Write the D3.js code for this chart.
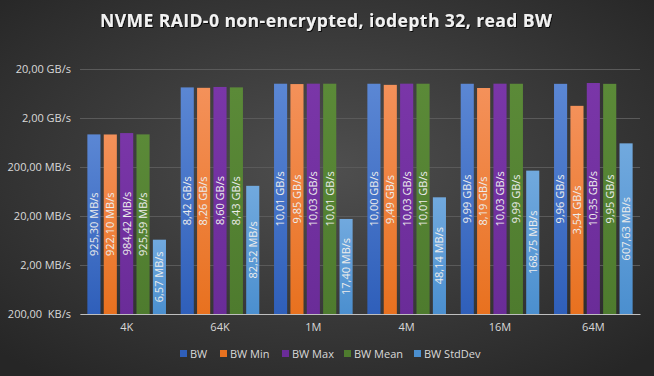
<!DOCTYPE html>
<html>
<head>
<meta charset="utf-8">
<script src="https://cdn.jsdelivr.net/npm/d3@7"></script>
<style>
  html, body { margin: 0; padding: 0; background: #2a2a2a; }
  svg { display: block; font-family: "Open Sans", "Noto Sans", sans-serif; }
</style>
</head>
<body>
<svg class="chart-svg" width="654" height="376"></svg>
<script>
// chart data (values in MB/s)
const categories = ['4K', '64K', '1M', '4M', '16M', '64M']
const seriesNames = ['BW', 'BW Min', 'BW Max', 'BW Mean', 'BW StdDev']
const bw = [925.30, 8420, 10010, 10000, 9990, 9960]
const bwMin = [922.10, 8260, 9850, 9490, 8190, 3540]
const bwMax = [984.42, 8600, 10030, 10030, 10030, 10350]
const bwMean = [925.59, 8430, 10010, 10010, 9990, 9950]
const bwStd = [6.57, 82.52, 17.40, 48.14, 168.75, 607.63]
const yTicks = [0.2, 2, 20, 200, 2000, 20000]
const yTickLabels = ['200,00  KB/s', '2,00 MB/s', '20,00 MB/s', '200,00 MB/s', '2,00 GB/s', '20,00 GB/s']

const seriesValues = [bw, bwMin, bwMax, bwMean, bwStd]
const colors = [
  ['#5b87d4', '#2f5fba'],
  ['#f4915a', '#e8711f'],
  ['#7a36a8', '#6a2c98'],
  ['#5b8a38', '#4e7b2e'],
  ['#71a9de', '#4b8fcf']
]

var svg = d3.select('.chart-svg')
var width = 654, height = 376
var margin = {left: 80, right: 14, top: 69, bottom: 62}

// background
var defs = svg.append('defs')
var bg = defs.append('radialGradient').attr('id', 'bg')
  .attr('cx', '50%').attr('cy', '45%').attr('r', '70%')
bg.append('stop').attr('offset', '0%').attr('stop-color', '#4f4f4f')
bg.append('stop').attr('offset', '100%').attr('stop-color', '#262626')
svg.append('rect').attr('width', width).attr('height', height).attr('fill', 'url(#bg)')

colors.forEach(function (c, i) {
  var g = defs.append('linearGradient').attr('id', 'grad' + i)
    .attr('x1', 0).attr('y1', 0).attr('x2', 0).attr('y2', 1)
  g.append('stop').attr('offset', '0%').attr('stop-color', c[0])
  g.append('stop').attr('offset', '100%').attr('stop-color', c[1])
})

var shadow = defs.append('filter').attr('id', 'shadow')
shadow.append('feDropShadow').attr('dx', 1).attr('dy', 1).attr('stdDeviation', 0.6)
  .attr('flood-color', '#000').attr('flood-opacity', 0.8)

svg.append('text')
  .attr('x', 326).attr('y', 27)
  .attr('text-anchor', 'middle')
  .attr('fill', '#f2f2f2')
  .attr('font-size', 17.5)
  .attr('font-weight', 'bold')
  .attr('textLength', 452)
  .attr('lengthAdjust', 'spacing')
  .attr('filter', 'url(#shadow)')
  .text('NVME RAID-0 non-encrypted, iodepth 32, read BW')

const xScale = d3.scaleBand()
  .domain(categories)
  .range([margin.left, width - margin.right])
  .paddingInner(0)
  .paddingOuter(0)

const inner = d3.scaleBand()
  .domain(seriesNames)
  .range([0, xScale.bandwidth()])
  .paddingInner(0.2)
  .paddingOuter(0.45)

const yScale = d3.scaleLog()
  .domain([0.2, 20000])
  .range([height - margin.bottom, margin.top])

// gridlines + y labels
var y_axis = d3.axisLeft(yScale)
  .tickValues(yTicks)
  .tickSize(-(width - margin.left - margin.right))
  .tickPadding(10)
  .tickFormat(function (d, i) { return yTickLabels[i] })

var yg = svg.append('g')
  .attr('transform', 'translate(' + margin.left + ',0)')
  .call(y_axis)
yg.select('.domain').remove()
yg.selectAll('.tick line').attr('stroke', '#5a5a5a').attr('stroke-width', 1)
yg.selectAll('.tick text')
  .attr('fill', '#d9d9d9')
  .attr('font-size', 11)
  .style('font-family', '"Open Sans", sans-serif')
  .style('white-space', 'pre')
  .attr('x', -9)

// bars
seriesNames.forEach(function (name, si) {
  var vals = seriesValues[si]
  var g = svg.append('g')
  g.selectAll('rect')
    .data(vals)
    .join('rect')
    .attr('x', function (d, i) { return xScale(categories[i]) + inner(name) })
    .attr('width', inner.bandwidth())
    .attr('y', function (d) { return yScale(d) })
    .attr('height', function (d) { return yScale(0.2) - yScale(d) })
    .attr('fill', 'url(#grad' + si + ')')

  g.selectAll('text')
    .data(vals)
    .join('text')
    .attr('transform', function (d, i) {
      var cx = xScale(categories[i]) + inner(name) + inner.bandwidth() / 2
      var cy = (yScale(d) + yScale(0.2)) / 2
      return 'translate(' + cx + ',' + cy + ') rotate(-90)'
    })
    .attr('text-anchor', 'middle')
    .attr('dy', '0.35em')
    .attr('fill', '#ececec')
    .attr('font-size', 11)
    .text(function (d) {
      var s = d >= 1000 ? d3.format('.2f')(d / 1000) + ' GB/s' : d3.format('.2f')(d) + ' MB/s'
      return s.replace('.', ',')
    })
})

// x axis
var x_axis = d3.axisBottom(xScale).tickSize(0).tickPadding(9)
var xg = svg.append('g')
  .attr('transform', 'translate(0,' + (height - margin.bottom) + ')')
  .call(x_axis)
xg.select('.domain').attr('stroke', '#bfbfbf').attr('stroke-width', 1)
xg.selectAll('.tick text')
  .attr('fill', '#d9d9d9')
  .attr('font-size', 11)
  .style('font-family', '"Open Sans", sans-serif')

// legend
var legendX = [180, 220, 282, 344, 414]
var legend = svg.append('g').selectAll('g')
  .data(seriesNames)
  .join('g')
  .attr('transform', function (d, i) { return 'translate(' + legendX[i] + ',354)' })
legend.append('rect')
  .attr('x', 0).attr('y', -4).attr('width', 7).attr('height', 7)
  .attr('fill', function (d, i) { return colors[i][1] })
legend.append('text')
  .attr('x', 10).attr('y', 0).attr('dy', '0.35em')
  .attr('fill', '#d9d9d9')
  .attr('font-size', 11)
  .text(function (d) { return d })
</script>
</body>
</html>
